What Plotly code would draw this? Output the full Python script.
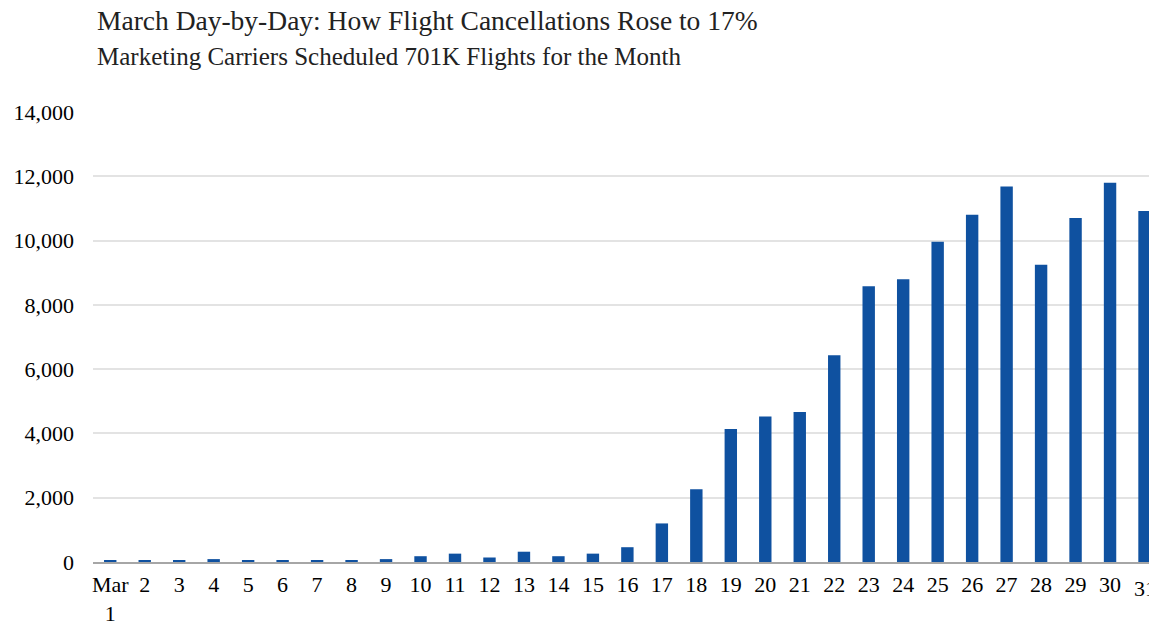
import plotly.graph_objects as go

days = list(range(1, 32))
day_labels = ["Mar<br>1"] + [str(d) for d in range(2, 32)]
cancellations = [40, 40, 40, 90, 40, 40, 40, 40, 90, 180, 260, 140, 320, 180, 260, 460,
                 1200, 2260, 4140, 4530, 4670, 6430, 8580, 8800, 9960, 10800, 11680,
                 9250, 10700, 11800, 10920]
y_ticks = [0, 2000, 4000, 6000, 8000, 10000, 12000, 14000]
title = "March Day-by-Day: How Flight Cancellations Rose to 17%"
subtitle = "Marketing Carriers Scheduled 701K Flights for the Month"

xpos = list(range(len(days)))

fig = go.Figure(go.Bar(x=xpos, y=cancellations, marker_color="#0F51A0",
                       marker_line_width=0, width=0.36))

font = "Liberation Serif, Times New Roman, serif"
fig.update_layout(
    width=1149, height=623,
    margin=dict(l=93, r=0, t=112, b=61, autoexpand=False),
    plot_bgcolor="white", paper_bgcolor="white",
    showlegend=False,
    font=dict(family=font, color="black", size=22),
    xaxis=dict(range=[-0.5, 30.13], tickmode="array", tickvals=xpos[:-1],
               ticktext=day_labels[:-1],
               showgrid=False, showline=True, linecolor="#a6a6a6", linewidth=1.5,
               ticks="", zeroline=False, ticklabelstandoff=2, automargin=False,
               tickfont=dict(size=22, family=font, color="black")),
    yaxis=dict(range=[0, 14000], tickmode="array", tickvals=y_ticks,
               ticktext=[f"{v:,}" for v in y_ticks],
               showgrid=True, gridcolor="#e3e3e3", gridwidth=1.5, zeroline=False,
               showline=False, ticks="", ticklabelstandoff=18, automargin=False,
               tickfont=dict(size=22, family=font, color="black")),
    annotations=[
        dict(text=title, xref="paper", yref="paper", x=0.002, y=(562 - 20) / 450,
             xanchor="left", yanchor="middle", showarrow=False,
             font=dict(size=27.5, family=font, color="#222")),
        dict(text=subtitle, xref="paper", yref="paper", x=0.002, y=(562 - 57) / 450,
             xanchor="left", yanchor="middle", showarrow=False,
             font=dict(size=25, family=font, color="#222")),
        # last day's tick label, which runs past the right edge as in the reference
        dict(text=day_labels[-1], xref="x", yref="paper", x=xpos[-1], y=0,
             yshift=-26, xanchor="center", yanchor="middle", showarrow=False,
             font=dict(size=22, family=font, color="black")),
    ],
)

fig.write_html(
    "out.html",
    config={"displayModeBar": False},
    post_script="document.body.style.margin='0';"
                "document.documentElement.style.overflow='hidden';"
                "document.body.style.overflow='hidden';",
)
